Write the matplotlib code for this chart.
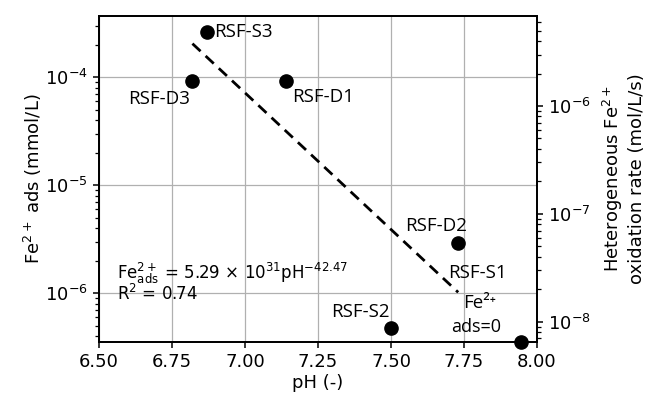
import matplotlib
matplotlib.use('Agg')
import matplotlib.pyplot as plt

plt.rcParams['font.family'] = 'DejaVu Sans'
plt.rcParams['font.size'] = 13
plt.rcParams['mathtext.fontset'] = 'dejavusans'

# Samples (pH, adsorbed Fe2+ in mmol/L)
labels = ['RSF-S3', 'RSF-D3', 'RSF-D1', 'RSF-D2', 'RSF-S2']
ph = [6.87, 6.82, 7.14, 7.73, 7.50]
fe_ads = [2.65e-4, 9.2e-5, 9.3e-5, 2.9e-6, 4.8e-7]

# RSF-S1 has Fe2+ ads = 0 -> drawn on the bottom edge
ph_s1 = 7.945

# Power-law fit line, end points
fit_ph = [6.82, 7.73]
fit_fe = [2.05e-4, 1.02e-6]

fig = plt.figure(figsize=(6.49, 3.99), dpi=100)
ax = fig.add_axes([0.1525, 0.143, 0.675, 0.817])

ax.set_yscale('log')
ax.set_xlim(6.5, 8.0)
ax.set_ylim(10**-6.451, 10**-3.432)
ax.set_xticks([6.5, 6.75, 7.0, 7.25, 7.5, 7.75, 8.0])
ax.grid(True, which='major', color='#b0b0b0', linewidth=0.9)
ax.set_axisbelow(True)

ax.plot(fit_ph, fit_fe, '--', color='black', linewidth=2.0, dashes=(4, 2.5))
ax.plot(ph, fe_ads, 'o', color='black', markersize=9.5, linestyle='none')
ax.plot([ph_s1], [ax.get_ylim()[0]], 'o', color='black', markersize=9.5,
        clip_on=False, zorder=5)

lab_font = 'Open Sans'
lab_size = 13.5
ax.text(6.895, 2.65e-4, 'RSF-S3', fontsize=lab_size, family=lab_font, va='center', ha='left')
ax.text(6.81, 6.3e-5, 'RSF-D3', fontsize=lab_size, family=lab_font, va='center', ha='right')
ax.text(7.16, 6.6e-5, 'RSF-D1', fontsize=lab_size, family=lab_font, va='center', ha='left')
ax.text(7.548, 4.2e-6, 'RSF-D2', fontsize=lab_size, family=lab_font, va='center', ha='left')
ax.text(7.695, 1.54e-6, 'RSF-S1', fontsize=lab_size, family=lab_font, va='center', ha='left')
ax.text(7.747, 8.1e-7, 'Fe²⁺', fontsize=lab_size, family=[lab_font, 'DejaVu Sans'],
        va='center', ha='left')
ax.text(7.791, 4.9e-7, 'ads=0', fontsize=lab_size - 0.5, family=lab_font, va='center', ha='center')
ax.text(7.495, 6.7e-7, 'RSF-S2', fontsize=lab_size, family=lab_font, va='center', ha='right')

ax.text(6.562, 1.52e-6, r'Fe$^{2+}_{\rm ads}$ = 5.29 $\times$ 10$^{31}$pH$^{-42.47}$',
        fontsize=12, va='center', ha='left')
ax.text(6.562, 9.8e-7, r'R$^2$ = 0.74', fontsize=12, va='center', ha='left')

ax.set_xlabel('pH (-)', fontsize=13, labelpad=2)
ax.set_ylabel(r'Fe$^{2+}$ ads (mmol/L)', fontsize=13, labelpad=1)

ax2 = ax.twinx()
ax2.set_yscale('log')
ax2.set_ylim(10**-8.189, 10**-5.164)
ax2.set_ylabel('Heterogeneous Fe$^{2+}$\noxidation rate (mol/L/s)', fontsize=13, labelpad=7)

for a in (ax, ax2):
    for s in a.spines.values():
        s.set_linewidth(1.3)
    a.tick_params(which='major', width=1.1, length=4.5)
    a.tick_params(which='minor', width=0.9, length=2.8)

fig.savefig('out.png', dpi=100)
